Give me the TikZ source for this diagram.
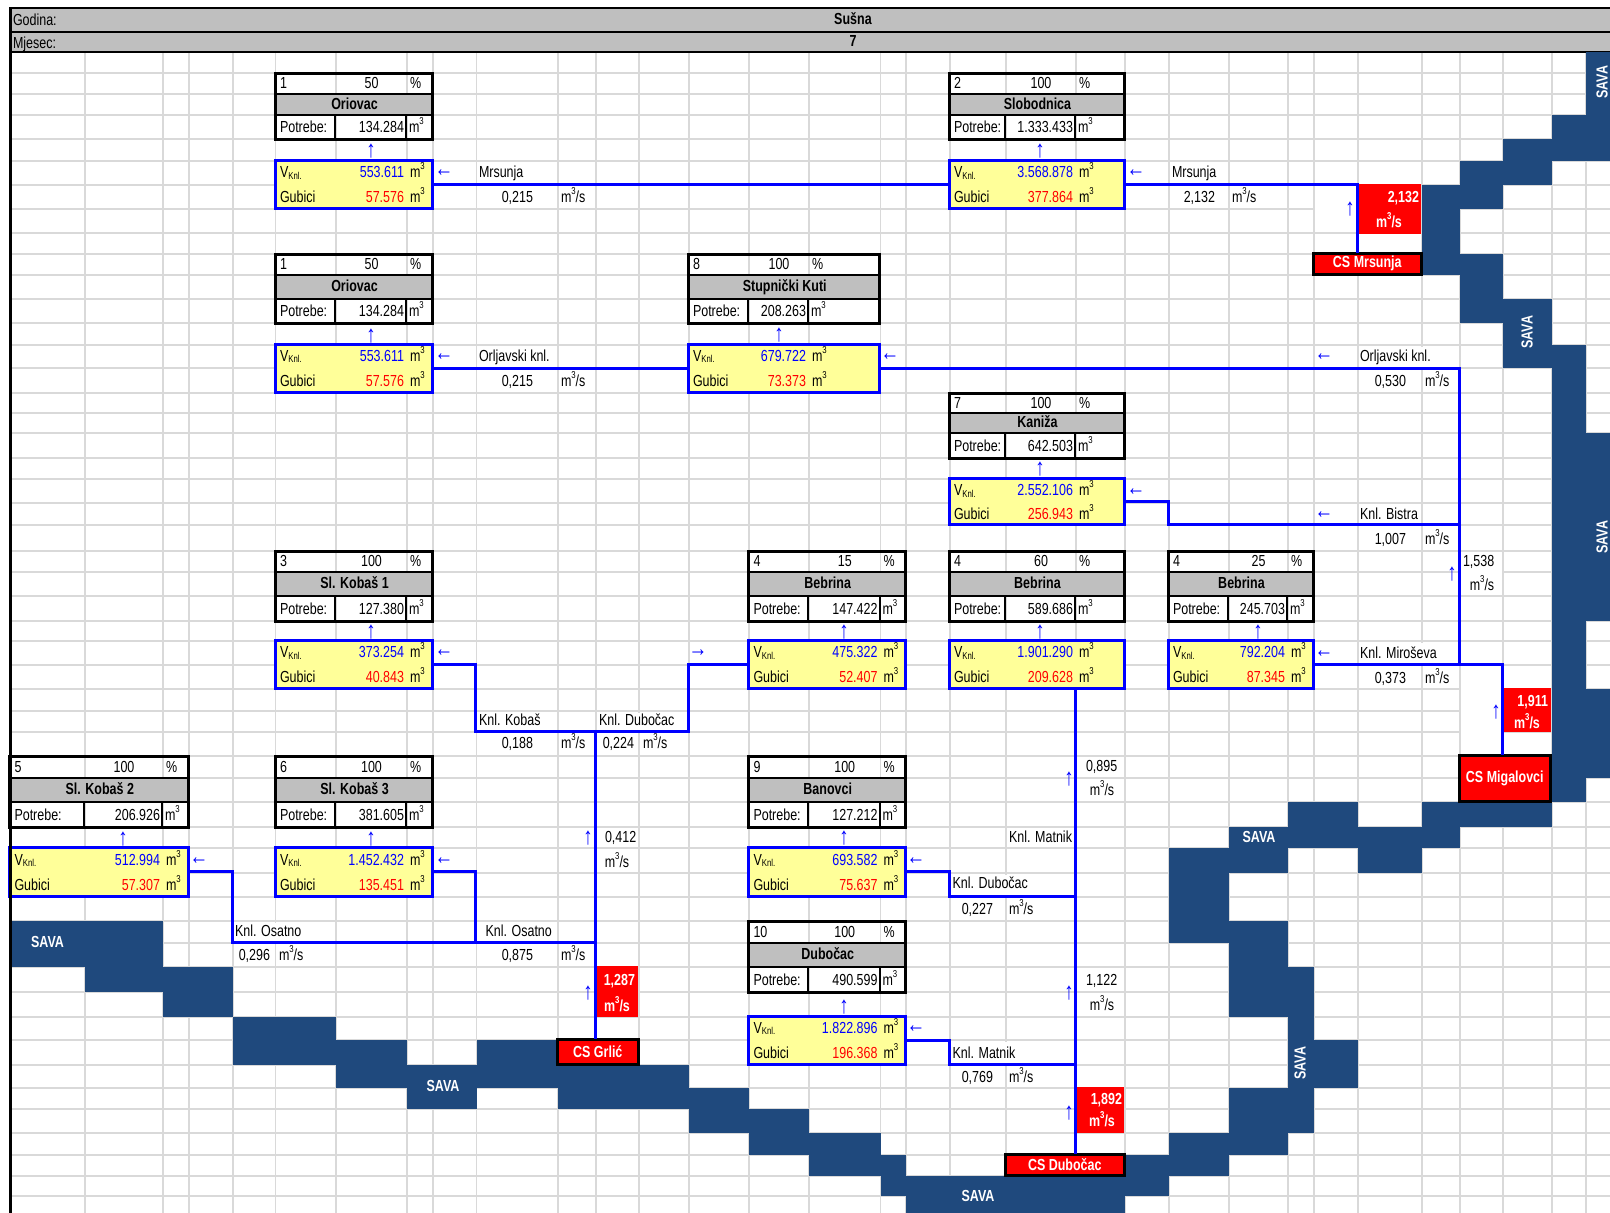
\documentclass[tikz,border=0pt]{standalone}
\usepackage{fontspec}
\setmainfont{Liberation Sans}[FakeStretch=0.78]
\definecolor{gridc}{HTML}{D9D9D9}
\definecolor{hdrc}{HTML}{BFBFBF}
\definecolor{savac}{HTML}{1F497D}
\definecolor{yelc}{HTML}{FFFF99}
\definecolor{pipec}{HTML}{0000FF}
\definecolor{redc}{HTML}{FF0000}
\newcounter{tn}
\newcommand{\cub}{m\raisebox{8pt}{\fontsize{10}{10}\selectfont 3}}
\newcommand{\cubs}{\cub/s}
\newcommand{\knl}{V\raisebox{-1.5pt}{\fontsize{10}{10}\selectfont Knl.}}
\newcommand{\tl}[3]{\stepcounter{tn}\node[txt,anchor=base west] (t\thetn) at ({#1},{#2+5.5}) {#3};}
\newcommand{\tr}[3]{\stepcounter{tn}\node[txt,anchor=base east] (t\thetn) at ({#1},{#2+5.5}) {#3};}
\newcommand{\tc}[3]{\stepcounter{tn}\node[txt,anchor=base] (t\thetn) at ({#1},{#2+5.5}) {#3};}
\newcommand{\aU}[2]{\stepcounter{tn}\node[arr] (t\thetn) at (#1,#2) {↑};}
\newcommand{\aL}[2]{\stepcounter{tn}\node[arr] (t\thetn) at (#1,#2) {←};}
\newcommand{\aR}[2]{\stepcounter{tn}\node[arr] (t\thetn) at (#1,#2) {→};}
\newcommand{\sv}[2]{\stepcounter{tn}\node[savat] (t\thetn) at (#1,#2) {SAVA};}
\newcommand{\svr}[2]{\stepcounter{tn}\node[savat,rotate=90] (t\thetn) at (#1,#2) {SAVA};}
\newcommand{\riv}[4]{\fill[savac] (#1,#2) rectangle (#3,#4);}
\newcommand{\setcols}[4]{\def\xa{#1}\def\xb{#2}\def\xc{#3}\def\xd{#4}}
\newcommand{\setrows}[7]{\def\ya{#1}\def\yb{#2}\def\yc{#3}\def\yd{#4}\def\ye{#5}\def\yf{#6}\def\yg{#7}}
\newcommand{\station}[7]{%
  \begin{scope}[xshift=-0.7pt]
  \fill[hdrc] (\xa,\yb) rectangle (\xd,\yc);
  \draw[thinblk] (\xa,\yb) -- (\xd,\yb) (\xa,\yc) -- (\xd,\yc) (\xb,\yc) -- (\xb,\yd) (\xc,\yc) -- (\xc,\yd);
  \end{scope}
  \node[tabframe,minimum width={(\xd-\xa)*1pt},minimum height={(\yd-\ya)*1pt}] (tab#1) at (\xa,\ya) {};
  \node[yelbox,minimum width={(\xd-\xa)*1pt},minimum height={(\yg-\ye)*1pt}] (y#1) at (\xa,\ye) {};
  \tl{\xa+4}{(\ya+\yb)/2-0.5}{#2}
  \tc{(\xb+\xc)/2}{(\ya+\yb)/2-0.5}{#3}
  \tl{\xc+3}{(\ya+\yb)/2-0.5}{\%}
  \tc{(\xa+\xd)/2}{(\yb+\yc)/2-0.7}{\textbf{#4}}
  \tl{\xa+4}{(\yc+\yd)/2}{Potrebe:}
  \tr{\xc-3}{(\yc+\yd)/2}{#5}
  \tl{\xc+2}{(\yc+\yd)/2}{\cub}
  \tl{\xa+4}{(\ye+\yf)/2-0.8}{\knl}
  \tr{\xc-3}{(\ye+\yf)/2-0.8}{\textcolor{pipec}{#6}}
  \tl{\xc+3}{(\ye+\yf)/2-0.8}{\cub}
  \tl{\xa+4}{(\yf+\yg)/2}{Gubici}
  \tr{\xc-3}{(\yf+\yg)/2}{\textcolor{redc}{#7}}
  \tl{\xc+3}{(\yf+\yg)/2}{\cub}
}
\begin{document}
\begin{tikzpicture}[x=1pt,y=-1pt,
  font=\fontsize{16}{18}\selectfont,
  txt/.style={inner sep=0pt,outer sep=0pt,text=black},
  arr/.style={inner sep=0pt,outer sep=0pt,text=pipec,font=\fontsize{24}{26}\selectfont},
  savat/.style={inner sep=0pt,outer sep=0pt,text=white,font=\fontsize{16}{18}\selectfont\bfseries},
  thinblk/.style={draw=black,line width=2.2pt},
  tabframe/.style={draw=black,line width=3pt,anchor=north west,inner sep=0pt,outer sep=0pt,xshift=-0.7pt},
  yelbox/.style={draw=pipec,fill=yelc,line width=3.3pt,anchor=north west,inner sep=0pt,outer sep=0pt,xshift=-0.7pt,yshift=0.7pt},
  csbox/.style={draw=black,fill=redc,line width=3.2pt,anchor=north west,inner sep=0pt,outer sep=0pt,xshift=-0.7pt,yshift=0.7pt,text=white,font=\fontsize{16}{18}\selectfont\bfseries},
  flowbox/.style={fill=redc,anchor=north west,inner sep=0pt,outer sep=0pt,xshift=-0.7pt,yshift=0.7pt},
  pipe/.style={draw=pipec,line width=3pt,line join=miter},
  gridl/.style={draw=gridc,line width=1.8pt},
  mask/.style={fill=white}]
\useasboundingbox (0,0) rectangle (1610,1213);
\fill[white] (0,0) rectangle (1610,1213);
% grid
\foreach \gx in {85,163,189,233,275.5,336,407,433,476.5,558,596,639,689,749,809,880.5,906,950,1006,1076,1125,1169,1229,1288,1314,1358,1422,1460,1503,1552,1586}
  \draw[gridl] (\gx,52) -- (\gx,1213);
\foreach \gy in {73,94,115,139,161,185,209,233,254,275,299,323,345,368,393,413,433,458,479,503,525,551,572,596,621,641,665,689,711,732,756,778,802,827,848,873,897,921,943,967,992,1017,1040,1065,1088,1109,1133,1155,1176,1196}
  \draw[gridl] (10.5,\gy) -- (1610,\gy);
% merged cells in the sheet
\fill[mask] (1420,346.5) rectangle (1424,366.5);
\fill[mask] (1420,642.5) rectangle (1424,663.5);
\fill[mask] (637,712.5) rectangle (641,730.5);
\fill[mask] (273.5,922.5) rectangle (277.5,941.5);
\fill[mask] (1004,874.5) rectangle (1008,895.5);
\fill[mask] (1004,1041.5) rectangle (1008,1063.5);
\fill[mask] (1315,186.5) rectangle (1357,231.5);
\fill[mask] (1461,666.5) rectangle (1502,754.5);
\fill[mask] (1461,570.5) rectangle (1502,573.5);
% header
\fill[hdrc] (10.5,8) rectangle (1610,52);
\draw[draw=black,line width=2.4pt] (10.5,8) -- (1610,8);
\draw[draw=black,line width=2pt] (10.5,32) -- (1610,32);
\draw[draw=black,line width=2pt] (10.5,52) -- (1610,52);
\tl{13}{20}{Godina:}
\tl{13}{43}{Mjesec:}
\tc{853}{19}{\textbf{Sušna}}
\tc{853}{41}{\textbf{7}}
% river
\riv{1586}{52}{1610}{115}
\riv{1552}{115}{1610}{139}
\riv{1503}{139}{1610}{161}
\riv{1460}{161}{1552}{185}
\riv{1422}{185}{1503}{209}
\riv{1422}{209}{1460}{254}
\riv{1422}{254}{1503}{275}
\riv{1460}{275}{1503}{299}
\riv{1460}{299}{1552}{323}
\riv{1503}{323}{1552}{345}
\riv{1503}{345}{1586}{368}
\riv{1552}{368}{1586}{433}
\riv{1552}{433}{1610}{621}
\riv{1552}{621}{1586}{689}
\riv{1552}{689}{1610}{778}
\riv{1552}{778}{1586}{802}
\riv{1288}{802}{1358}{827}
\riv{1422}{802}{1552}{827}
\riv{1229}{827}{1460}{848}
\riv{1169}{848}{1288}{873}
\riv{1358}{848}{1422}{873}
\riv{1169}{873}{1229}{921}
\riv{1169}{921}{1288}{943}
\riv{1229}{943}{1288}{967}
\riv{1229}{967}{1314}{1017}
\riv{1288}{1017}{1314}{1040}
\riv{1288}{1040}{1358}{1088}
\riv{1229}{1088}{1314}{1133}
\riv{1169}{1133}{1288}{1155}
\riv{1125}{1155}{1229}{1176}
\riv{880.5}{1176}{1169}{1196}
\riv{906}{1196}{1125}{1213}
\riv{809}{1155}{906}{1176}
\riv{749}{1133}{880.5}{1155}
\riv{689}{1109}{809}{1133}
\riv{558}{1088}{749}{1109}
\riv{336}{1065}{689}{1088}
\riv{407}{1088}{476.5}{1109}
\riv{476.5}{1040}{558}{1065}
\riv{233}{1017}{336}{1065}
\riv{336}{1040}{407}{1065}
\riv{163}{992}{233}{1017}
\riv{85}{967}{233}{992}
\riv{10.5}{921}{163}{967}
% stations
\setcols{276}{336}{407}{433}
\setrows{73}{94}{115}{139}{161}{185}{209}
\station{Ori}{1}{50}{Oriovac}{134.284}{553.611}{57.576}
\setrows{254}{275}{299}{323}{345}{368}{393}
\station{OriB}{1}{50}{Oriovac}{134.284}{553.611}{57.576}
\setrows{551}{572}{596}{621}{641}{665}{689}
\station{KobA}{3}{100}{Sl. Kobaš 1}{127.380}{373.254}{40.843}
\setrows{756}{778}{802}{827}{848}{873}{897}
\station{KobC}{6}{100}{Sl. Kobaš 3}{381.605}{1.452.432}{135.451}
\setcols{10.5}{85}{163}{189}
\station{KobB}{5}{100}{Sl. Kobaš 2}{206.926}{512.994}{57.307}
\setcols{749.5}{809}{880.5}{906}
\station{Ban}{9}{100}{Banovci}{127.212}{693.582}{75.637}
\setrows{551}{572}{596}{621}{641}{665}{689}
\station{BebA}{4}{15}{Bebrina}{147.422}{475.322}{52.407}
\setrows{921}{943}{967}{992}{1017}{1040}{1065}
\station{Dub}{10}{100}{Dubočac}{490.599}{1.822.896}{196.368}
\setcols{689}{749}{809}{880.5}
\setrows{254}{275}{299}{323}{345}{368}{393}
\station{Stu}{8}{100}{Stupnički Kuti}{208.263}{679.722}{73.373}
\setcols{950}{1006}{1076}{1125}
\setrows{73}{94}{115}{139}{161}{185}{209}
\station{Slo}{2}{100}{Slobodnica}{1.333.433}{3.568.878}{377.864}
\setrows{393}{413}{433}{458}{479}{503}{525}
\station{Kan}{7}{100}{Kaniža}{642.503}{2.552.106}{256.943}
\setrows{551}{572}{596}{621}{641}{665}{689}
\station{BebB}{4}{60}{Bebrina}{589.686}{1.901.290}{209.628}
\setcols{1169}{1229}{1288}{1314}
\station{BebC}{4}{25}{Bebrina}{245.703}{792.204}{87.345}
% red flow boxes
\node[flowbox,minimum width=64pt,minimum height=49.5pt] (fMrs) at (1358,185) {};
\node[flowbox,minimum width=49pt,minimum height=43.5pt] (fMig) at (1503,689) {};
\node[flowbox,minimum width=43pt,minimum height=50.5pt] (fGrl) at (596,967) {};
\node[flowbox,minimum width=49pt,minimum height=45.5pt] (fDub) at (1076,1088) {};
% pumping stations
\node[csbox,minimum width=108pt,minimum height=21pt] (csMrs) at (1314,254) {CS Mrsunja};
\node[csbox,minimum width=91pt,minimum height=46pt] (csMig) at (1460,756) {CS Migalovci};
\node[csbox,minimum width=81pt,minimum height=25pt] (csGrl) at (558,1040) {CS Grlić};
\node[csbox,minimum width=119pt,minimum height=21pt] (csDub) at (1006,1155) {CS Dubočac};
% connector waypoints
\begin{scope}[xshift=-0.7pt,yshift=0.7pt]
\coordinate (tapMrs) at (1358,254);
\coordinate (jOrl) at (1460,665);
\coordinate (jBisA) at (1169,525);
\coordinate (jBisB) at (1460,525);
\coordinate (tapMig) at (1503,756);
\coordinate (kobA) at (476.5,732);
\coordinate (kobB) at (689,732);
\coordinate (grlTop) at (596,732);
\coordinate (tapGrl) at (596,1040);
\coordinate (osA) at (233,943);
\coordinate (osB) at (596,943);
\coordinate (osC) at (476.5,943);
\coordinate (dubTop) at (1076,689);
\coordinate (tapDub) at (1076,1155);
\coordinate (matA) at (950,897);
\coordinate (matB) at (1076,897);
\coordinate (matC) at (950,1065);
\coordinate (matD) at (1076,1065);
\end{scope}
% connectors
\draw[pipe] (yOri.east) -- (ySlo.west);
\draw[pipe] (ySlo.east) -| (tapMrs);
\draw[pipe] (yOriB.east) -- (yStu.west);
\draw[pipe] (yStu.east) -| (jOrl);
\draw[pipe] (yKan.east) -| (jBisA) -- (jBisB);
\draw[pipe] (yBebC.east) -| (tapMig);
\draw[pipe] (yKobA.east) -| (kobA) -- (kobB) |- (yBebA.west);
\draw[pipe] (grlTop) -- (tapGrl);
\draw[pipe] (yKobB.east) -| (osA) -- (osB);
\draw[pipe] (yKobC.east) -| (osC);
\draw[pipe] (dubTop) -- (tapDub);
\draw[pipe] (yBan.east) -| (matA) -- (matB);
\draw[pipe] (yDub.east) -| (matC) -- (matD);
% left border
\draw[draw=black,line width=2.4pt] (10.5,7) -- (10.5,1213);
% labels
\tl{479}{172}{Mrsunja} \tr{533}{197}{0,215} \tl{561}{197}{\cubs}
\tl{1172}{172}{Mrsunja} \tr{1215}{197}{2,132} \tl{1232}{197}{\cubs}
\tl{479}{356}{Orljavski knl.} \tr{533}{381}{0,215} \tl{561}{381}{\cubs}
\tl{1360}{356}{Orljavski knl.} \tr{1406}{381}{0,530} \tl{1425}{381}{\cubs}
\tl{1360}{514}{Knl. Bistra} \tr{1406}{539}{1,007} \tl{1425}{539}{\cubs}
\tl{1463}{561}{1,538} \tc{1482}{585}{\cubs}
\tl{1360}{653}{Knl. Miroševa} \tr{1406}{678}{0,373} \tl{1425}{678}{\cubs}
\tl{479}{720}{Knl. Kobaš} \tr{533}{743}{0,188} \tl{561}{743}{\cubs}
\tl{599}{720}{Knl. Dubočac} \tr{634}{743}{0,224} \tl{643}{743}{\cubs}
\tl{605}{837}{0,412} \tc{617}{862}{\cubs}
\tl{235}{931}{Knl. Osatno} \tr{270}{955}{0,296} \tl{279}{955}{\cubs}
\tl{485.5}{931}{Knl. Osatno} \tr{533}{955}{0,875} \tl{561}{955}{\cubs}
\tl{1086}{766}{0,895} \tc{1102}{790}{\cubs}
\tr{1072}{837}{Knl. Matnik}
\tl{952.5}{883}{Knl. Dubočac} \tr{993}{909}{0,227} \tl{1009}{909}{\cubs}
\tl{1086}{980}{1,122} \tc{1102}{1005}{\cubs}
\tl{952.5}{1053}{Knl. Matnik} \tr{993}{1077}{0,769} \tl{1009}{1077}{\cubs}
% red box texts
\tr{1419}{197}{\textcolor{white}{\textbf{2,132}}} \tc{1389}{222}{\textcolor{white}{\textbf{\cubs}}}
\tr{1548}{701}{\textcolor{white}{\textbf{1,911}}} \tc{1527}{723}{\textcolor{white}{\textbf{\cubs}}}
\tr{635}{980}{\textcolor{white}{\textbf{1,287}}} \tc{617}{1006}{\textcolor{white}{\textbf{\cubs}}}
\tr{1122}{1099}{\textcolor{white}{\textbf{1,892}}} \tc{1102}{1121}{\textcolor{white}{\textbf{\cubs}}}
% arrows
\aL{444}{173} \aL{1136}{173} \aL{444}{357} \aL{890}{357} \aL{1324}{357}
\aL{1136}{492} \aL{1324}{515} \aL{1324}{654} \aL{444}{653} \aR{698}{653}
\aL{199}{861} \aL{444}{861} \aL{916}{861} \aL{916}{1029}
\aU{371}{151} \aU{1040}{151} \aU{371}{336} \aU{779}{335} \aU{1040}{469}
\aU{371}{632} \aU{844}{632} \aU{1040}{632} \aU{1258}{632}
\aU{123}{839} \aU{371}{839} \aU{844}{838} \aU{844}{1007}
\aU{1350}{209} \aU{1452}{574} \aU{1496}{712} \aU{1069}{779}
\aU{588}{838} \aU{588}{993} \aU{1069}{993} \aU{1069}{1113}
% SAVA labels
\svr{1602}{82} \svr{1527}{332} \svr{1602}{537} \sv{1259}{837} \svr{1300}{1063}
\sv{47.5}{942} \sv{443}{1086} \sv{978}{1196}
\end{tikzpicture}
\end{document}
